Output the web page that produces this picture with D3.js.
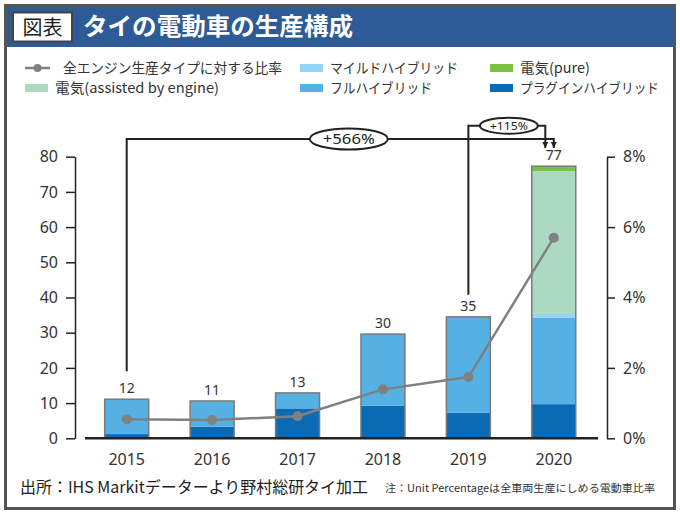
<!DOCTYPE html>
<html><head><meta charset="utf-8">
<script src="https://cdn.jsdelivr.net/npm/d3@7"></script>
<style>
body{margin:0;background:#fff;}
svg{display:block;font-family:"Noto Sans CJK JP","Noto Sans",sans-serif;}
</style></head>
<body><svg id="c" width="680" height="512"></svg>
<script>
const years = ["2015","2016","2017","2018","2019","2020"];
const phev = [1.2, 3.3, 8.5, 9.3, 7.3, 9.7];
const fullHybrid = [9.9, 7.3, 4.4, 20.3, 26.9, 24.6];
const mildHybrid = [0, 0, 0, 0, 0, 1.0];
const assisted = [0, 0, 0, 0, 0, 40.6];
const pure = [0, 0, 0, 0, 0.3, 1.4];
const totalLabels = [12, 11, 13, 30, 35, 77];
const shareEV = [0.0054, 0.0052, 0.00625, 0.0139, 0.0174, 0.057];
const leftTicks = [0,10,20,30,40,50,60,70,80];
const rightTicks = [0,0.02,0.04,0.06,0.08];
const seriesNames = ["プラグインハイブリッド","フルハイブリッド","マイルドハイブリッド","電気(assisted by engine)","電気(pure)"];
const seriesColors = ["#0a6ab4","#55b1e3","#92d5f4","#acd9c1","#7cc143"];
const lineName = "全エンジン生産タイプに対する比率";
const title = "タイの電動車の生産構成";
const badge = "図表";
const annotations = [{from:"2015", to:"2020", text:"+566%"},{from:"2019", to:"2020", text:"+115%"}];
const source = "出所：IHS Markitデーターより野村総研タイ加工";
const note = "注：Unit Percentageは全車両生産にしめる電動車比率";

const svg = d3.select("#c");

// frame
svg.append("rect").attr("x",5.5).attr("y",5.5).attr("width",669).attr("height",503)
  .attr("fill","#fff").attr("stroke","#555").attr("stroke-width",3);
svg.append("rect").attr("x",7).attr("y",7).attr("width",666).attr("height",40).attr("fill","#2d5b97");
svg.append("rect").attr("x",13).attr("y",12.5).attr("width",59).attr("height",29)
  .attr("fill","#fff").attr("stroke","#444").attr("stroke-width",2);
svg.append("text").attr("x",42.5).attr("y",34.5).attr("text-anchor","middle")
  .attr("font-size",20).attr("fill","#222").text(badge);
svg.append("text").attr("x",83).attr("y",35).attr("font-size",24).attr("font-weight","bold")
  .attr("fill","#fff").attr("textLength",270).attr("lengthAdjust","spacingAndGlyphs").text(title);

// scales
const x = d3.scaleBand().domain(years).range([84,596.5]).paddingInner(0.485).paddingOuter(0.2425);
const y = d3.scaleLinear().domain([0,80]).range([438.3,156.7]);
const y2 = d3.scaleLinear().domain([0,0.08]).range([438.3,156.7]);
const cx = d=>x(d)+x.bandwidth()/2;

// stacked bars
const rows = years.map((yr,i)=>({year:yr, s0:phev[i], s1:fullHybrid[i], s2:mildHybrid[i], s3:assisted[i], s4:pure[i]}));
const keys = ["s0","s1","s2","s3","s4"];
const stack = d3.stack().keys(keys)(rows);
const g = svg.append("g");
stack.forEach((layer,k)=>{
  g.selectAll(null).data(layer).join("rect")
   .attr("x",d=>x(d.data.year)).attr("width",x.bandwidth())
   .attr("y",d=>y(d[1])).attr("height",d=>Math.max(0,y(d[0])-y(d[1])))
   .attr("fill",seriesColors[k]);
});
const totals = rows.map(r=>keys.reduce((a,k)=>a+r[k],0));
g.selectAll(null).data(rows).join("rect")
  .attr("x",d=>x(d.year)).attr("width",x.bandwidth())
  .attr("y",(d,i)=>y(totals[i])).attr("height",(d,i)=>y(0)-y(totals[i]))
  .attr("fill","none").attr("stroke","#7a7a7a").attr("stroke-width",1.5);

// baseline
svg.append("line").attr("x1",85).attr("x2",598).attr("y1",y(0)).attr("y2",y(0))
  .attr("stroke","#222").attr("stroke-width",2.5);

// axes
const axL = svg.append("g").attr("transform","translate(75,0)")
  .call(d3.axisLeft(y).tickValues(leftTicks).tickSize(9).tickSizeOuter(0).tickPadding(8));
const axR = svg.append("g").attr("transform","translate(607,0)")
  .call(d3.axisRight(y2).tickValues(rightTicks).tickFormat(d3.format(".0%")).tickSize(8).tickSizeOuter(0).tickPadding(8));
[axL,axR].forEach(a=>{
  a.select(".domain").attr("stroke","#222").attr("stroke-width",1.5);
  a.selectAll(".tick line").attr("stroke","#222").attr("stroke-width",1.5);
  a.selectAll("text").attr("font-size",16).attr("fill","#333")
   .attr("font-family","'Noto Sans','Noto Sans CJK JP',sans-serif");
});
// year labels
svg.append("g").selectAll("text").data(years).join("text")
  .attr("x",d=>cx(d)).attr("y",465).attr("text-anchor","middle")
  .attr("font-size",16).attr("fill","#333").attr("font-family","'Noto Sans',sans-serif").text(d=>d);

// value labels
svg.append("g").selectAll("text").data(years).join("text")
  .attr("x",d=>cx(d)).attr("y",(d,i)=>y(totals[i])-6).attr("text-anchor","middle")
  .attr("font-size",14).attr("fill","#333").attr("font-family","'Noto Sans',sans-serif")
  .text((d,i)=>totalLabels[i]);

// line
svg.append("path").datum(years).attr("fill","none").attr("stroke","#808080").attr("stroke-width",2.5)
  .attr("d",d3.line().x(d=>cx(d)).y((d,i)=>y2(shareEV[i])));
svg.append("g").selectAll("circle").data(years).join("circle")
  .attr("cx",d=>cx(d)).attr("cy",(d,i)=>y2(shareEV[i])).attr("r",5).attr("fill","#808080");

// annotations
const defs = svg.append("defs");
defs.append("marker").attr("id","arr").attr("viewBox","0 0 10 10").attr("refX",10).attr("refY",5)
  .attr("markerWidth",3.2).attr("markerHeight",3.2).attr("orient","auto")
  .append("path").attr("d","M0,0L10,5L0,10z").attr("fill","#222");
const ann = [
  {a:annotations[0], top:139, bot:y(totals[0])-28, endX:cx("2020"), ex:cx("2015")+0.52*(cx("2020")-cx("2015")), rx:39, ry:10.5, fs:15, tl:52},
  {a:annotations[1], top:125.7, bot:y(totals[4])-22, endX:cx("2020")-8.5, ex:(cx("2019")+cx("2020")-8.5)/2+2, rx:29, ry:8, fs:11, tl:38}
];
ann.forEach(o=>{
  const sx = cx(o.a.from);
  svg.append("path").attr("fill","none").attr("stroke","#222").attr("stroke-width",2)
    .attr("marker-end","url(#arr)")
    .attr("d",`M${sx},${o.bot}V${o.top}H${o.endX}V148`);
  svg.append("ellipse").attr("cx",o.ex).attr("cy",o.top).attr("rx",o.rx).attr("ry",o.ry)
    .attr("fill","#fff").attr("stroke","#222").attr("stroke-width",2);
  svg.append("text").attr("x",o.ex).attr("y",o.top+o.fs*0.36).attr("text-anchor","middle")
    .attr("font-size",o.fs).attr("fill","#222").attr("font-family","'Noto Sans',sans-serif")
    .attr("textLength",o.tl).attr("lengthAdjust","spacingAndGlyphs").text(o.a.text);
});

// legend
const leg = svg.append("g").attr("font-size",14).attr("fill","#333");
const lg = [
  {type:"line", x:25, y:68, text:lineName, tl:219},
  {type:"box", c:seriesColors[2], x:300, y:68, text:seriesNames[2], tl:128},
  {type:"box", c:seriesColors[4], x:490, y:68, text:seriesNames[4], tl:70},
  {type:"box", c:seriesColors[3], x:25, y:88, text:seriesNames[3], tl:164},
  {type:"box", c:seriesColors[1], x:300, y:88, text:seriesNames[1], tl:102},
  {type:"box", c:seriesColors[0], x:490, y:88, text:seriesNames[0], tl:139}
];
lg.forEach(d=>{
  if(d.type==="line"){
    leg.append("line").attr("x1",d.x).attr("x2",d.x+25).attr("y1",d.y).attr("y2",d.y).attr("stroke","#808080").attr("stroke-width",2.5);
    leg.append("circle").attr("cx",d.x+12.5).attr("cy",d.y).attr("r",4).attr("fill","#808080");
  } else {
    leg.append("rect").attr("x",d.x).attr("y",d.y-4).attr("width",23).attr("height",8).attr("fill",d.c);
  }
  leg.append("text").attr("x",d.x+(d.type==="line"?38:30)).attr("y",d.y+5).attr("fill","#333")
    .attr("textLength",d.tl).attr("lengthAdjust","spacingAndGlyphs").text(d.text);
});

// footer
svg.append("text").attr("x",20).attr("y",493).attr("font-size",16).attr("fill","#222")
  .attr("textLength",348).attr("lengthAdjust","spacingAndGlyphs").text(source);
svg.append("text").attr("x",385).attr("y",492).attr("font-size",10.5).attr("fill","#333")
  .attr("textLength",270).attr("lengthAdjust","spacingAndGlyphs").text(note);
</script></body></html>
